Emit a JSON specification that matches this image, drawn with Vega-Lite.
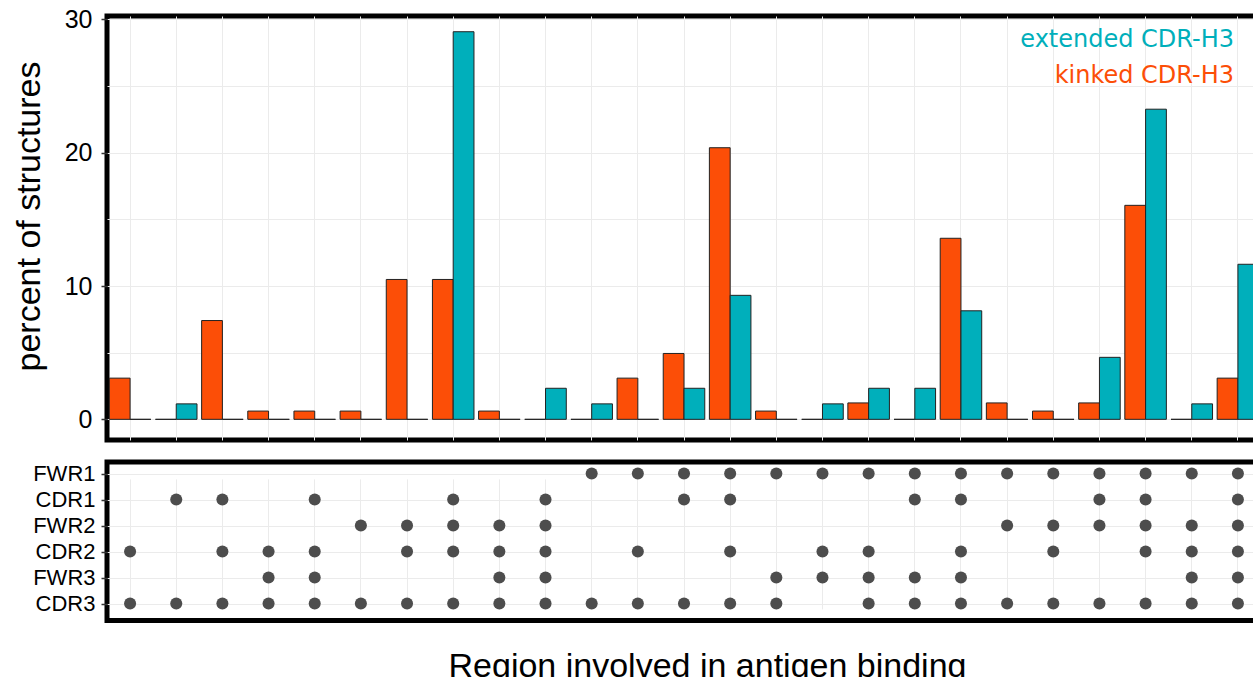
{
  "$schema": "https://vega.github.io/schema/vega-lite/v6.json",
  "background": "white",
  "padding": {"left": 9, "top": 4, "right": 0, "bottom": 0},
  "spacing": 16,
  "datasets": {
    "bars": [
      {"col": 1, "shape": "kinked CDR-H3", "pct": 3.09}, {"col": 1, "shape": "extended CDR-H3", "pct": 0},
      {"col": 2, "shape": "kinked CDR-H3", "pct": 0}, {"col": 2, "shape": "extended CDR-H3", "pct": 1.16},
      {"col": 3, "shape": "kinked CDR-H3", "pct": 7.41}, {"col": 3, "shape": "extended CDR-H3", "pct": 0},
      {"col": 4, "shape": "kinked CDR-H3", "pct": 0.62}, {"col": 4, "shape": "extended CDR-H3", "pct": 0},
      {"col": 5, "shape": "kinked CDR-H3", "pct": 0.62}, {"col": 5, "shape": "extended CDR-H3", "pct": 0},
      {"col": 6, "shape": "kinked CDR-H3", "pct": 0.62}, {"col": 6, "shape": "extended CDR-H3", "pct": 0},
      {"col": 7, "shape": "kinked CDR-H3", "pct": 10.49}, {"col": 7, "shape": "extended CDR-H3", "pct": 0},
      {"col": 8, "shape": "kinked CDR-H3", "pct": 10.49}, {"col": 8, "shape": "extended CDR-H3", "pct": 29.07},
      {"col": 9, "shape": "kinked CDR-H3", "pct": 0.62}, {"col": 9, "shape": "extended CDR-H3", "pct": 0},
      {"col": 10, "shape": "kinked CDR-H3", "pct": 0}, {"col": 10, "shape": "extended CDR-H3", "pct": 2.33},
      {"col": 11, "shape": "kinked CDR-H3", "pct": 0}, {"col": 11, "shape": "extended CDR-H3", "pct": 1.16},
      {"col": 12, "shape": "kinked CDR-H3", "pct": 3.09}, {"col": 12, "shape": "extended CDR-H3", "pct": 0},
      {"col": 13, "shape": "kinked CDR-H3", "pct": 4.94}, {"col": 13, "shape": "extended CDR-H3", "pct": 2.33},
      {"col": 14, "shape": "kinked CDR-H3", "pct": 20.37}, {"col": 14, "shape": "extended CDR-H3", "pct": 9.30},
      {"col": 15, "shape": "kinked CDR-H3", "pct": 0.62}, {"col": 15, "shape": "extended CDR-H3", "pct": 0},
      {"col": 16, "shape": "kinked CDR-H3", "pct": 0}, {"col": 16, "shape": "extended CDR-H3", "pct": 1.16},
      {"col": 17, "shape": "kinked CDR-H3", "pct": 1.23}, {"col": 17, "shape": "extended CDR-H3", "pct": 2.33},
      {"col": 18, "shape": "kinked CDR-H3", "pct": 0}, {"col": 18, "shape": "extended CDR-H3", "pct": 2.33},
      {"col": 19, "shape": "kinked CDR-H3", "pct": 13.58}, {"col": 19, "shape": "extended CDR-H3", "pct": 8.14},
      {"col": 20, "shape": "kinked CDR-H3", "pct": 1.23}, {"col": 20, "shape": "extended CDR-H3", "pct": 0},
      {"col": 21, "shape": "kinked CDR-H3", "pct": 0.62}, {"col": 21, "shape": "extended CDR-H3", "pct": 0},
      {"col": 22, "shape": "kinked CDR-H3", "pct": 1.23}, {"col": 22, "shape": "extended CDR-H3", "pct": 4.65},
      {"col": 23, "shape": "kinked CDR-H3", "pct": 16.05}, {"col": 23, "shape": "extended CDR-H3", "pct": 23.26},
      {"col": 24, "shape": "kinked CDR-H3", "pct": 0}, {"col": 24, "shape": "extended CDR-H3", "pct": 1.16},
      {"col": 25, "shape": "kinked CDR-H3", "pct": 3.09}, {"col": 25, "shape": "extended CDR-H3", "pct": 11.63}
    ],
    "dots": [
      {"col": 1, "region": "CDR2"}, {"col": 1, "region": "CDR3"},
      {"col": 2, "region": "CDR1"}, {"col": 2, "region": "CDR3"},
      {"col": 3, "region": "CDR1"}, {"col": 3, "region": "CDR2"}, {"col": 3, "region": "CDR3"},
      {"col": 4, "region": "CDR2"}, {"col": 4, "region": "FWR3"}, {"col": 4, "region": "CDR3"},
      {"col": 5, "region": "CDR1"}, {"col": 5, "region": "CDR2"}, {"col": 5, "region": "FWR3"}, {"col": 5, "region": "CDR3"},
      {"col": 6, "region": "FWR2"}, {"col": 6, "region": "CDR3"},
      {"col": 7, "region": "FWR2"}, {"col": 7, "region": "CDR2"}, {"col": 7, "region": "CDR3"},
      {"col": 8, "region": "CDR1"}, {"col": 8, "region": "FWR2"}, {"col": 8, "region": "CDR2"}, {"col": 8, "region": "CDR3"},
      {"col": 9, "region": "FWR2"}, {"col": 9, "region": "CDR2"}, {"col": 9, "region": "FWR3"}, {"col": 9, "region": "CDR3"},
      {"col": 10, "region": "CDR1"}, {"col": 10, "region": "FWR2"}, {"col": 10, "region": "CDR2"}, {"col": 10, "region": "FWR3"}, {"col": 10, "region": "CDR3"},
      {"col": 11, "region": "FWR1"}, {"col": 11, "region": "CDR3"},
      {"col": 12, "region": "FWR1"}, {"col": 12, "region": "CDR2"}, {"col": 12, "region": "CDR3"},
      {"col": 13, "region": "FWR1"}, {"col": 13, "region": "CDR1"}, {"col": 13, "region": "CDR3"},
      {"col": 14, "region": "FWR1"}, {"col": 14, "region": "CDR1"}, {"col": 14, "region": "CDR2"}, {"col": 14, "region": "CDR3"},
      {"col": 15, "region": "FWR1"}, {"col": 15, "region": "FWR3"}, {"col": 15, "region": "CDR3"},
      {"col": 16, "region": "FWR1"}, {"col": 16, "region": "CDR2"}, {"col": 16, "region": "FWR3"},
      {"col": 17, "region": "FWR1"}, {"col": 17, "region": "CDR2"}, {"col": 17, "region": "FWR3"}, {"col": 17, "region": "CDR3"},
      {"col": 18, "region": "FWR1"}, {"col": 18, "region": "CDR1"}, {"col": 18, "region": "FWR3"}, {"col": 18, "region": "CDR3"},
      {"col": 19, "region": "FWR1"}, {"col": 19, "region": "CDR1"}, {"col": 19, "region": "CDR2"}, {"col": 19, "region": "FWR3"}, {"col": 19, "region": "CDR3"},
      {"col": 20, "region": "FWR1"}, {"col": 20, "region": "FWR2"}, {"col": 20, "region": "CDR3"},
      {"col": 21, "region": "FWR1"}, {"col": 21, "region": "FWR2"}, {"col": 21, "region": "CDR2"}, {"col": 21, "region": "CDR3"},
      {"col": 22, "region": "FWR1"}, {"col": 22, "region": "CDR1"}, {"col": 22, "region": "FWR2"}, {"col": 22, "region": "CDR3"},
      {"col": 23, "region": "FWR1"}, {"col": 23, "region": "CDR1"}, {"col": 23, "region": "FWR2"}, {"col": 23, "region": "CDR2"}, {"col": 23, "region": "CDR3"},
      {"col": 24, "region": "FWR1"}, {"col": 24, "region": "FWR2"}, {"col": 24, "region": "CDR2"}, {"col": 24, "region": "FWR3"}, {"col": 24, "region": "CDR3"},
      {"col": 25, "region": "FWR1"}, {"col": 25, "region": "CDR1"}, {"col": 25, "region": "FWR2"}, {"col": 25, "region": "CDR2"}, {"col": 25, "region": "FWR3"}, {"col": 25, "region": "CDR3"}
    ]
  },
  "config": {
    "view": {"stroke": "black", "strokeWidth": 5},
    "axis": {
      "gridColor": "#EBEBEB",
      "gridWidth": 1,
      "domain": false,
      "tickColor": "#333333",
      "tickWidth": 1.5,
      "labelColor": "black",
      "labelFont": "Liberation Sans",
      "titleFont": "Liberation Sans",
      "titleFontWeight": "normal",
      "titleColor": "black"
    }
  },
  "vconcat": [
    {
      "width": 1154,
      "height": 424,
      "data": {"name": "bars"},
      "mark": {"type": "bar", "stroke": "#222222", "strokeWidth": 1},
      "encoding": {
        "x": {
          "field": "col", "type": "ordinal",
          "scale": {"type": "band", "domain": [1,2,3,4,5,6,7,8,9,10,11,12,13,14,15,16,17,18,19,20,21,22,23,24,25], "paddingInner": 0.1, "paddingOuter": 0.05},
          "axis": {"labels": false, "ticks": false, "title": null, "grid": true}
        },
        "xOffset": {
          "field": "shape", "type": "nominal",
          "scale": {"domain": ["kinked CDR-H3", "extended CDR-H3"], "paddingInner": 0, "paddingOuter": 0}
        },
        "y": {
          "field": "pct", "type": "quantitative",
          "scale": {"domain": [-1.55, 30.25], "nice": false, "zero": false},
          "axis": {
            "title": "percent of structures",
            "titleFontSize": 34,
            "titlePadding": 18,
            "titleY": 200,
            "values": [0, 5, 10, 15, 20, 25, 30],
            "labelExpr": "datum.value % 10 === 0 ? datum.label : ''",
            "labelFontSize": 25,
            "labelPadding": 9,
            "tickSize": 6,
            "tickOpacity": {"condition": {"test": "datum.value % 10 === 0", "value": 1}, "value": 0},
            "grid": true
          }
        },
        "y2": {"datum": 0},
        "color": {
          "field": "shape", "type": "nominal",
          "scale": {"domain": ["extended CDR-H3", "kinked CDR-H3"], "range": ["#00AFBB", "#FC4E07"]},
          "legend": {
            "orient": "none",
            "legendX": 1103,
            "legendY": 12,
            "title": null,
            "labelFont": "DejaVu Sans",
            "labelFontSize": 24,
            "labelAlign": "right",
            "labelOffset": 0,
            "labelLimit": 400,
            "labelColor": {"expr": "datum.value === 'kinked CDR-H3' ? '#FC4E07' : '#00AFBB'"},
            "symbolSize": 0,
            "symbolStrokeWidth": 0,
            "symbolOpacity": 0,
            "rowPadding": 12
          }
        }
      }
    },
    {
      "width": 1154,
      "height": 158.5,
      "data": {"name": "dots"},
      "mark": {"type": "circle", "size": 145, "color": "#4D4D4D", "opacity": 1},
      "encoding": {
        "x": {
          "field": "col", "type": "ordinal",
          "scale": {"type": "band", "domain": [1,2,3,4,5,6,7,8,9,10,11,12,13,14,15,16,17,18,19,20,21,22,23,24,25], "paddingInner": 0.1, "paddingOuter": 0.05},
          "axis": {"labels": false, "ticks": false, "grid": true, "title": "Region involved in antigen binding", "titleFontSize": 34, "titlePadding": 29, "titleX": 600}
        },
        "y": {
          "field": "region", "type": "ordinal",
          "scale": {"type": "point", "domain": ["FWR1", "CDR1", "FWR2", "CDR2", "FWR3", "CDR3"], "range": [11.6, 141.6], "padding": 0},
          "axis": {"title": null, "labelFontSize": 22, "labelPadding": 6, "tickSize": 6, "grid": true}
        }
      }
    }
  ]
}
